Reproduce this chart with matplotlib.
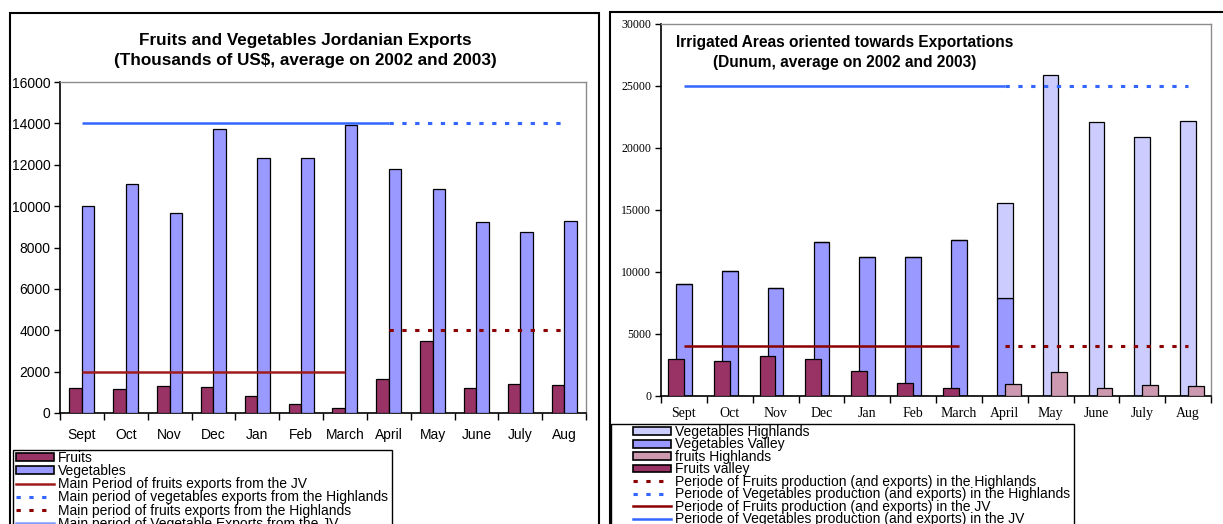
import matplotlib
matplotlib.use("Agg")
import matplotlib.pyplot as plt
import numpy as np
from matplotlib.patches import Rectangle, Patch
from matplotlib.lines import Line2D
from matplotlib.ticker import FixedLocator, NullFormatter

# ---------------- data ----------------
months = ["Sept", "Oct", "Nov", "Dec", "Jan", "Feb", "March",
          "April", "May", "June", "July", "Aug"]

# Exports, thousands of US$
exports_fruits = [1200, 1150, 1300, 1250, 800, 420, 250, 1650, 3500, 1200, 1400, 1350]
exports_vegetables = [10000, 11050, 9650, 13750, 12350, 12350, 13900,
                      11800, 10850, 9250, 8750, 9300]

# Export periods (start month index, end month index, level)
fruits_jv_period = (0, 6, 2000)
fruits_hl_period = (7, 11, 4000)
veg_jv_period = (0, 7, 14000)
veg_hl_period = (7, 11, 14000)

# Irrigated areas, dunum
veg_highlands = [0, 0, 0, 0, 0, 0, 0, 7650, 25900, 22100, 20900, 22150]
veg_valley = [9050, 10050, 8750, 12450, 11200, 11200, 12600, 7900, 0, 0, 0, 0]
fruits_highlands = [0, 0, 0, 0, 0, 0, 0, 1000, 1950, 650, 850, 800]
fruits_valley = [2950, 2850, 3200, 3000, 2050, 1050, 650, 0, 0, 0, 0, 0]

area_fruits_jv = (0, 6, 4000)
area_fruits_hl = (7, 11, 4000)
area_veg_jv = (0, 7, 25000)
area_veg_hl = (7, 11, 25000)

# ---------------- style ----------------
C_FRUIT = "#993366"
C_VEG = "#9999FF"
C_VEG_HL = "#CCCCFF"
C_FRUIT_HL = "#CC99B0"
C_RED = "#8B0000"
C_BLUE = "#3366FF"
SANS = "Liberation Sans"
SERIF = "Liberation Serif"

W, H = 1223, 524
fig = plt.figure(figsize=(W / 100, H / 100), dpi=100)


def fx(px):
    return px / W


def fy(py):
    return 1 - py / H


DOT = dict(lw=2.2, dashes=(1.4, 2.8), dash_capstyle="butt")
SOLID = dict(lw=1.8, solid_capstyle="butt")


def period_line(ax, period, color, style):
    x0, x1, level = period
    ax.plot([x0, x1], [level, level], color=color, zorder=4, **style)


def style_axes(ax, ymax, ystep, ylab_font, ylab_size, xlab_font, xlab_size, xpad):
    n = len(months)
    ax.set_xlim(-0.5, n - 0.5)
    ax.set_ylim(0, ymax)
    ax.set_yticks(np.arange(0, ymax + 1, ystep))
    ax.set_xticks(np.arange(n))
    ax.set_xticklabels(months, family=xlab_font, fontsize=xlab_size)
    ax.xaxis.set_minor_locator(FixedLocator(np.arange(-0.5, n, 1.0)))
    ax.xaxis.set_minor_formatter(NullFormatter())
    ax.tick_params(axis="x", which="major", length=0, pad=xpad)
    ax.tick_params(axis="x", which="minor", length=5, width=1, direction="out")
    ax.tick_params(axis="y", length=4, width=1, direction="out", pad=3)
    for lab in ax.get_yticklabels():
        lab.set_family(ylab_font)
        lab.set_fontsize(ylab_size)
    for s in ("left", "bottom"):
        ax.spines[s].set_color("black")
        ax.spines[s].set_linewidth(1.2)
    for s in ("top", "right"):
        ax.spines[s].set_color("#8C8C8C")
        ax.spines[s].set_linewidth(1.0)


# ---------------- outer frames ----------------
fig.add_artist(Rectangle((fx(10), -0.1), fx(599) - fx(10), fy(13) + 0.1,
                         transform=fig.transFigure, fill=False, ec="black", lw=1.5))
fig.add_artist(Rectangle((fx(610), -0.1), fx(1240) - fx(610), fy(12) + 0.1,
                         transform=fig.transFigure, fill=False, ec="black", lw=1.5))

# ---------------- left chart: exports ----------------
axL = fig.add_axes([fx(60), fy(413), fx(586) - fx(60), fy(82) - fy(413)])
x = np.arange(len(months))
bw = 0.286
axL.bar(x - bw / 2, exports_fruits, bw, color=C_FRUIT, edgecolor="black", lw=0.9, zorder=3)
axL.bar(x + bw / 2, exports_vegetables, bw, color=C_VEG, edgecolor="black", lw=0.9, zorder=3)
period_line(axL, fruits_jv_period, "#A01C1C", SOLID)
period_line(axL, veg_jv_period, C_BLUE, SOLID)
period_line(axL, veg_hl_period, C_BLUE, DOT)
period_line(axL, fruits_hl_period, C_RED, DOT)
style_axes(axL, 16000, 2000, SANS, 10, SANS, 10, 11)

fig.text(fx(305), fy(40), "Fruits and Vegetables Jordanian Exports",
         ha="center", va="center", family=SANS, weight="bold", fontsize=12.3)
fig.text(fx(305), fy(61), "(Thousands of US$, average on 2002 and 2003)",
         ha="center", va="center", family=SANS, weight="bold", fontsize=12.3)

# ---------------- right chart: irrigated areas ----------------
axR = fig.add_axes([fx(661), fy(396), fx(1211) - fx(661), fy(24) - fy(396)])
vw = 0.34
fw = 0.345
axR.bar(x, veg_valley, vw, color=C_VEG, edgecolor="black", lw=0.9, zorder=2)
axR.bar(x, veg_highlands, vw, bottom=veg_valley, color=C_VEG_HL, edgecolor="black",
        lw=0.9, zorder=2)
axR.bar(x - 0.175, fruits_valley, fw, color=C_FRUIT, edgecolor="black", lw=0.9, zorder=3)
axR.bar(x + 0.175, fruits_highlands, fw, color=C_FRUIT_HL, edgecolor="black", lw=0.9, zorder=3)
period_line(axR, area_fruits_jv, C_RED, SOLID)
period_line(axR, area_fruits_hl, C_RED, DOT)
period_line(axR, area_veg_jv, C_BLUE, SOLID)
period_line(axR, area_veg_hl, C_BLUE, DOT)
style_axes(axR, 30000, 5000, SERIF, 8.5, SERIF, 10, 8)

fig.text(fx(845), fy(43), "Irrigated Areas oriented towards Exportations",
         ha="center", va="center", family=SANS, weight="bold", fontsize=11.2)
fig.text(fx(845), fy(63), "(Dunum, average on 2002 and 2003)",
         ha="center", va="center", family=SANS, weight="bold", fontsize=11.2)

# ---------------- legends ----------------
def patch(c):
    return Patch(facecolor=c, edgecolor="black", lw=1.2)


def dline(c):
    return Line2D([], [], color=c, **DOT)


def sline(c, lw=1.8):
    return Line2D([], [], color=c, lw=lw)


leg_kw = dict(loc="upper left", bbox_transform=fig.transFigure, frameon=False,
              borderaxespad=0, borderpad=0.0, handlelength=2.7, handleheight=0.5,
              handletextpad=0.3, prop={"family": SANS, "size": 10})

left_handles = [patch(C_FRUIT), patch(C_VEG), sline("#A01C1C"), dline(C_BLUE),
                dline(C_RED), sline("#7F9CFF")]
left_labels = ["Fruits", "Vegetables", "Main Period of fruits exports from the JV",
               "Main period of vegetables exports from the Highlands",
               "Main period of fruits exports from the Highlands",
               "Main period of Vegetable Exports from the JV"]
legL = fig.legend(left_handles, left_labels, bbox_to_anchor=(fx(16), fy(451)),
                  labelspacing=-0.06, **leg_kw)

right_handles = [patch(C_VEG_HL), patch(C_VEG), patch(C_FRUIT_HL), patch(C_FRUIT),
                 dline(C_RED), dline(C_BLUE), sline(C_RED), sline(C_BLUE)]
right_labels = ["Vegetables Highlands", "Vegetables Valley", "fruits Highlands",
                "Fruits valley",
                "Periode of Fruits production (and exports) in the Highlands",
                "Periode of Vegetables production (and exports) in the Highlands",
                "Periode of Fruits production (and exports) in the JV",
                "Periode of Vegetables production (and exports) in the JV"]
legR = fig.legend(right_handles, right_labels, bbox_to_anchor=(fx(633), fy(425)),
                  labelspacing=-0.11, **leg_kw)

# legend boxes drawn around the rendered legends
fig.canvas.draw()
inv = fig.transFigure.inverted()
for leg, left_px, top_px in ((legL, 13, 450), (legR, 611, 424)):
    bb = leg.get_window_extent()
    x1 = inv.transform((bb.x1 + 4, 0))[0]
    fig.add_artist(Rectangle((fx(left_px), -0.1), x1 - fx(left_px), fy(top_px) + 0.1,
                             transform=fig.transFigure, fill=False, ec="black", lw=1.0))

fig.savefig("out.png", dpi=100, facecolor="white")
